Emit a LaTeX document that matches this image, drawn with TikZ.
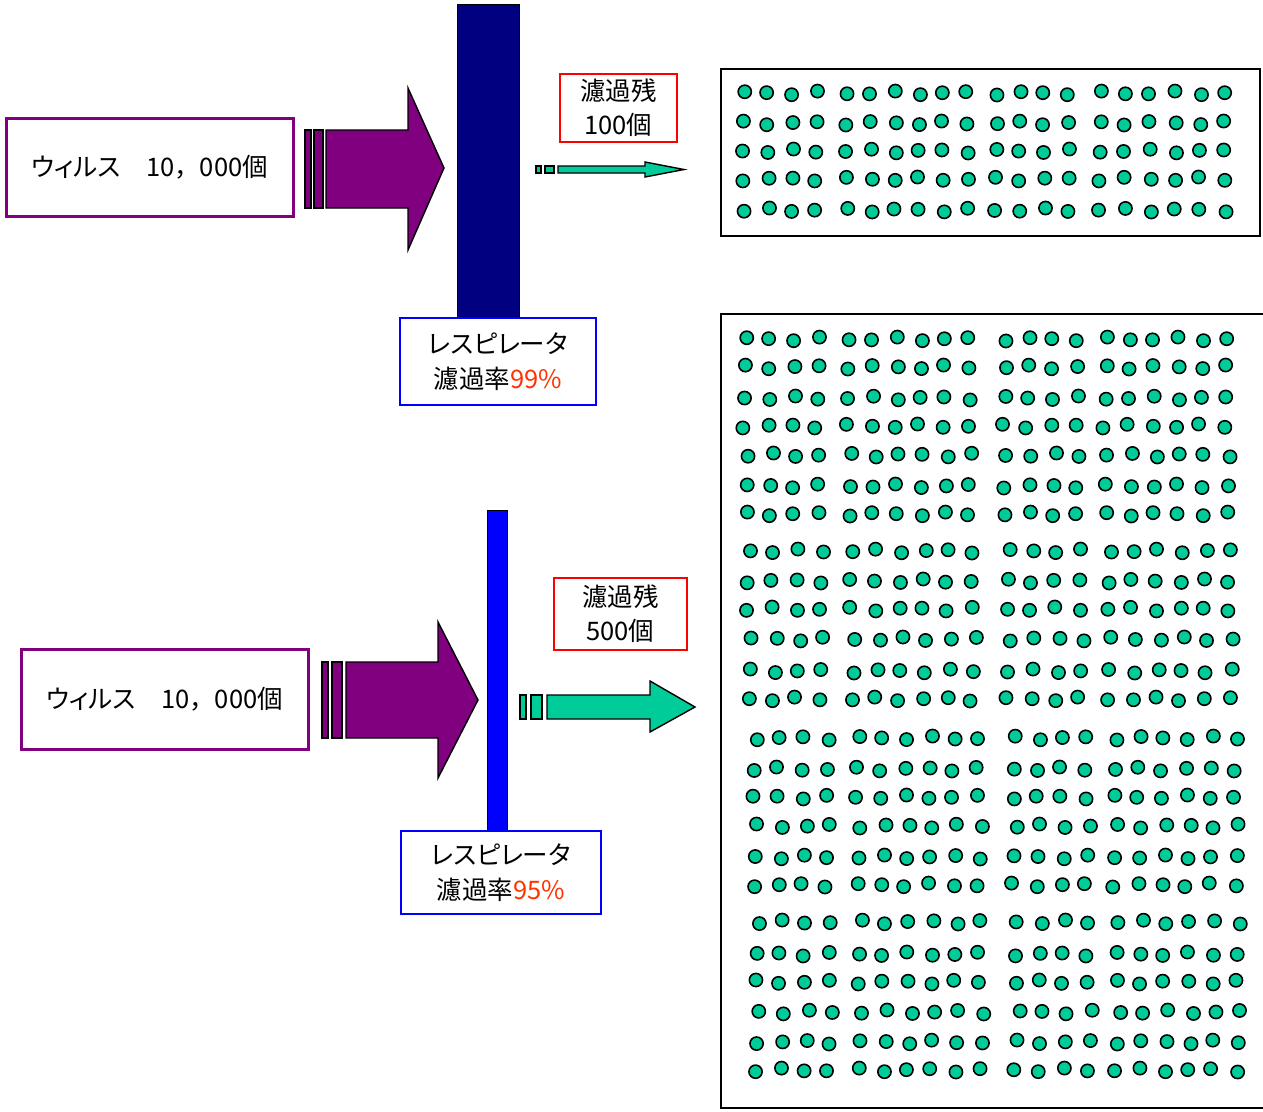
\documentclass[tikz,border=0pt]{standalone}
\usepackage{fontspec}
\setmainfont{Noto Sans CJK JP}
\newfontfamily\pk[RawFeature=+palt]{Noto Sans CJK JP}
\definecolor{vpurple}{RGB}{128,0,128}
\definecolor{vgreen}{RGB}{0,204,153}
\definecolor{vnavy}{RGB}{0,0,128}
\definecolor{vblue}{RGB}{0,0,255}
\definecolor{vred}{RGB}{255,51,0}
\definecolor{vboxred}{RGB}{255,0,0}
\begin{document}
\begin{tikzpicture}[x=1pt,y=-1pt,
  pbox/.style={draw=vpurple,line width=3pt,fill=white,inner sep=0pt,font=\fontsize{25.5}{28}\selectfont},
  bbox/.style={draw=vblue,line width=2pt,fill=white,inner sep=0pt,align=center,font=\fontsize{25.5}{35}\selectfont},
  rbox/.style={draw=vboxred,line width=1.8pt,fill=white,inner sep=0pt,align=center,font=\fontsize{25.5}{34}\selectfont},
  shapeline/.style={draw=black,line width=1.4pt,line join=miter},
  dot/.style={draw=black,fill=vgreen,line width=1.6pt}]
\useasboundingbox (0,0) rectangle (1263,1111);
\fill[white] (0,0) rectangle (1263,1111);

% ---------- top section ----------
\node[pbox,minimum width=287,minimum height=98] (v1) at (149.5,167) {{\pk ウィルス}　10，000個};
\draw[shapeline,fill=vpurple] (305,130) rectangle (311,208);
\draw[shapeline,fill=vpurple] (314,130) rectangle (323,208);
\draw[shapeline,fill=vpurple] (326,130)--(408,130)--(408,88)--(444,168)--(408,250)--(408,208)--(326,208)--cycle;
\draw[draw=black,line width=1pt,fill=vnavy] (457,4) rectangle (519,318);
\node[bbox,minimum width=196,minimum height=87] (f1) at (498,361.5) {{\pk レスピレータ}\\濾過率\textcolor{vred}{99\%}};
\node[rbox,minimum width=117,minimum height=68] (r1) at (618.5,108) {濾過残\\100個};
\draw[shapeline,fill=vgreen] (536,166) rectangle (541,173);
\draw[shapeline,fill=vgreen] (545,166) rectangle (554,173);
\draw[shapeline,fill=vgreen] (558,166)--(645,166)--(645,162)--(684,169.5)--(645,177)--(645,173)--(558,173)--cycle;
\draw[black,line width=2pt] (721,69) rectangle (1260,236);
\foreach \yy [count=\r] in {93,123,151,179,210}{
  \foreach \ox [count=\c] in {0,24,48,72,103,127,151,175,199,223,252,276,300,324,356,381,406,431,456,481}{
    \draw[dot] ({744+\ox+1.5*sin(\r*53+\c*97)},{\yy+2*sin(\r*71+\c*131+17)}) circle[radius=6.6];
  }
}

% ---------- bottom section ----------
\node[pbox,minimum width=287,minimum height=100] (v2) at (164.5,699) {{\pk ウィルス}　10，000個};
\draw[shapeline,fill=vpurple] (322,662) rectangle (328,738);
\draw[shapeline,fill=vpurple] (332,662) rectangle (342,738);
\draw[shapeline,fill=vpurple] (346,662)--(438,662)--(438,622)--(478,700)--(438,778)--(438,738)--(346,738)--cycle;
\draw[draw=black,line width=1pt,fill=vblue] (487,510) rectangle (507,831);
\node[bbox,minimum width=200,minimum height=83] (f2) at (501,872.5) {{\pk レスピレータ}\\濾過率\textcolor{vred}{95\%}};
\node[rbox,minimum width=133,minimum height=72] (r2) at (620.5,614) {濾過残\\500個};
\draw[shapeline,fill=vgreen] (520,695) rectangle (526,719);
\draw[shapeline,fill=vgreen] (531,695) rectangle (542,719);
\draw[shapeline,fill=vgreen] (547,695)--(650,695)--(650,681)--(695,707)--(650,732)--(650,719)--(547,719)--cycle;
\draw[black,line width=2pt] (1266,314)--(721,314)--(721,1108)--(1266,1108);
\foreach \yy/\sx [count=\r] in {339/746,367/746,398/746,426/744,455/748,486/746,514/746,551/750,581/748,609/748,639/752,671/750,699/748,738/756,769/754,797/754,826/758,857/756,885/754,922/758,954/756,982/756,1012/760,1042/758,1070/756}{
  \foreach \ox [count=\c] in {0,24,48,72,103,127,151,175,199,223,259,283,307,331,360,384,408,432,456,481}{
    \draw[dot] ({\sx+\ox+1.5*sin(\r*53+\c*97)},{\yy+2*sin(\r*71+\c*131+17)}) circle[radius=6.6];
  }
}
\end{tikzpicture}
\end{document}
